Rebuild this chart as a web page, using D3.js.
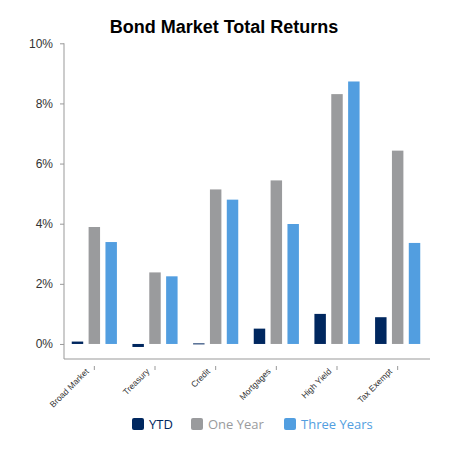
<!DOCTYPE html>
<html><head><meta charset="utf-8">
<script src="https://cdn.jsdelivr.net/npm/d3@7"></script>
<style>body{margin:0;background:#fff}</style>
</head><body>
<svg id="c" width="450" height="450"></svg>
<script>
const categories = ["Broad Market","Treasury","Credit","Mortgages","High Yield","Tax Exempt"];
const seriesNames = ["YTD","One Year","Three Years"];
const ytd = [0.08,-0.10,0.02,0.51,1.00,0.89];
const oneYear = [3.89,2.38,5.14,5.44,8.31,6.43];
const threeYears = [3.39,2.25,4.80,3.99,8.73,3.36];
const yTicks = [0,2,4,6,8,10];
const colors = ["#00275f","#9a9b9d","#529ee0"];

const series = [ytd, oneYear, threeYears];
const svg = d3.select("#c");
const font = "Liberation Sans, Arial, sans-serif";

svg.append("text").attr("x",224).attr("y",33).attr("text-anchor","middle")
  .attr("font-family",font).attr("font-weight","bold").attr("font-size",18).attr("fill","#000")
  .text("Bond Market Total Returns");

const x0 = d3.scaleBand().domain(categories).range([64,428]);
const x1 = d3.scaleBand().domain(seriesNames).range([0,x0.bandwidth()]).paddingInner(0.32).paddingOuter(0.46);
const y = d3.scaleLinear().domain([-0.5,10]).range([359,43.3]);

// y axis
const ya = svg.append("g").attr("transform","translate(64,0)")
  .call(d3.axisLeft(y).tickValues(yTicks).tickSize(4).tickFormat(d=>d+"%"));
ya.select(".domain").attr("stroke","#999").attr("d","M0,43.3V359");
ya.selectAll(".tick line").attr("stroke","#999");
ya.selectAll(".tick text").attr("font-family",font).attr("font-size",12).attr("fill","#333").attr("x",-11);

// x axis
const xa = svg.append("g").attr("transform","translate(0,359)")
  .call(d3.axisBottom(x0).tickSize(0).tickSizeOuter(0));
xa.select(".domain").attr("stroke","#999").attr("d","M64,0H430");
xa.selectAll(".tick").append("line").attr("y1",7).attr("y2",11).attr("stroke","#999");
xa.selectAll(".tick text").attr("font-family",font).attr("font-size",8.5).attr("fill","#333")
  .attr("text-anchor","end").attr("y",0).attr("dy",0)
  .attr("transform","translate(-5,13) rotate(-45)");

// bars
const g = svg.append("g");
categories.forEach((c,i)=>{
  seriesNames.forEach((s,j)=>{
    const v = series[j][i];
    g.append("rect")
      .attr("x",x0(c)+x1(s)).attr("width",x1.bandwidth())
      .attr("y",y(Math.max(0,v))).attr("height",Math.max(1,Math.abs(y(v)-y(0))))
      .attr("fill",colors[j]);
  });
});

// legend
const legX = [132,191,284];
const lg = svg.append("g");
seriesNames.forEach((s,j)=>{
  lg.append("rect").attr("x",legX[j]).attr("y",418).attr("width",12).attr("height",12).attr("rx",2).attr("fill",colors[j]);
  lg.append("text").attr("x",legX[j]+17).attr("y",429).attr("font-family","Open Sans, Arial, sans-serif")
    .attr("font-size",13).attr("fill",colors[j]).text(s);
});
</script>
</body></html>
